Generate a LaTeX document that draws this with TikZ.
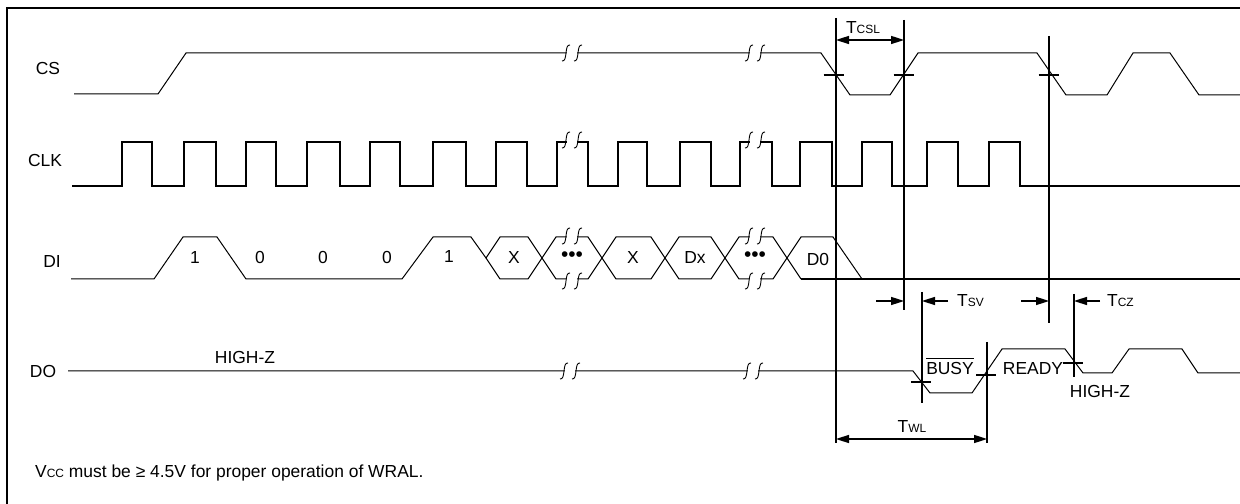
\documentclass[tikz,border=0pt]{standalone}
\usepackage{fontspec}
\setmainfont{Liberation Sans}
\usepackage{tikz}
\usetikzlibrary{arrows.meta,positioning}
\tikzstyle{signal} = [line width=1bp, line join=miter]
\tikzstyle{clock} = [line width=1.8bp]
\tikzstyle{guide} = [line width=1.8bp]
\tikzstyle{dimarrow} = [line width=1.6bp, >={Triangle[length=13bp,width=8bp]}]
\tikzstyle{siglabel} = [font=\fontsize{17.5}{20}\selectfont, inner sep=0pt]
\newcommand{\subcaps}[2]{#1{\fontsize{12}{14}\selectfont #2}}
\tikzset{brk/.pic={
  \fill[white] (-5,-7) rectangle (5,7);
  \draw[line width=0.9bp] (-10,8) .. controls (-4,9) and (-8,-9) .. (-2,-8);
  \draw[line width=0.9bp] (2,8) .. controls (8,9) and (4,-9) .. (10,-8);
}}

\begin{document}
\begin{tikzpicture}[x=1bp, y=-1bp]
\useasboundingbox (0,0) rectangle (1240,504);
% frame
\draw[line width=2.5bp] (7,504) -- (7,8) -- (1240,8);

% signal names
\node (cs) [siglabel] at (48,69) {CS};
\node (clk) [siglabel] at (45,161) {CLK};
\node (di) [siglabel] at (52,262) {DI};
\node (do) [siglabel] at (43,371) {DO};

% CS
\draw[signal] (74,94) -- (158,94) -- (186,53) -- (821,53) -- (850,95) -- (890,95) -- (918,53) -- (1037,53) -- (1066,95) -- (1107,95) -- (1133,53) -- (1170,53) -- (1199,95) -- (1240,95);

% CLK
\draw[clock] (72,186) foreach \r/\f in {122/152,184/216,246/276,307/340,370/400,433/466,496/527,557/588,618/647,680/711,740/772,800/832,862/892,927/958,989/1020} { -- (\r,186) -- (\r,142) -- (\f,142) -- (\f,186) } -- (1240,186);

% DI
\draw[signal] (71,279) -- (154,279) -- (183,237) -- (217,237) -- (246,279) -- (402,279) -- (433,237) -- (471,237) -- (486,258);
\foreach \a/\b in {486/542,542/602,602/665,665/725,725/787}
  \draw[signal] (\a,258) -- (\a+14,237) -- (\b-14,237) -- (\b,258) -- (\b-14,279) -- (\a+14,279) -- cycle;
\draw[signal] (787,258) -- (801,237) -- (833,237) -- (862,279);
\draw[signal] (787,258) -- (801,279);
\draw[clock] (801,279) -- (1240,279);

% DO
\draw[signal] (68,371) -- (913,371) -- (930,393) -- (972,393) -- (1002,349) -- (1065,349) -- (1083,373) -- (1112,373) -- (1129,349) -- (1182,349) -- (1198,373) -- (1240,373);

% breaks
\foreach \x in {572,755} {
  \pic at (\x,53) {brk};
  \pic at (\x,140) {brk};
  \pic at (\x,236) {brk};
  \pic at (\x,281) {brk};
}
\foreach \x in {570,753} \pic at (\x,371) {brk};

% DI data
\node (b1) [siglabel] at (195,258) {1};
\node (b2) [siglabel] at (260,257) {0};
\node (b3) [siglabel] at (323,257) {0};
\node (b4) [siglabel] at (387,257) {0};
\node (b5) [siglabel] at (449,257) {1};
\node (x1) [siglabel] at (514,258) {X};
\node (dots1) [siglabel, font=\fontsize{21}{21}\selectfont] at (572,257) {•••};
\node (x2) [siglabel] at (633,258) {X};
\node (dx) [siglabel] at (695,258) {Dx};
\node (dots2) [siglabel, font=\fontsize{21}{21}\selectfont] at (755,257) {•••};
\node (d0) [siglabel] at (818,259) {D0};

% timing guides
\coordinate (g1t) at (836,18);   \coordinate (g1b) at (836,443);
\coordinate (g2t) at (904,20);   \coordinate (g2b) at (904,310);
\coordinate (g3t) at (1049,36);  \coordinate (g3b) at (1049,323);
\coordinate (g4t) at (922,292);  \coordinate (g4b) at (922,403);
\coordinate (g5t) at (987,342);  \coordinate (g5b) at (987,443);
\coordinate (g6t) at (1074,294); \coordinate (g6b) at (1074,377);
\foreach \g in {1,...,6} \draw[guide] (g\g t) -- (g\g b);

% crossing ticks
\foreach \x/\y in {833.5/75,903.5/75,1048.5/75,921/382,986/375,1072.5/363}
  \draw[guide] (\x-10,\y) -- (\x+10,\y);

% timing arrows
\coordinate (a1) at (836,40);  \coordinate (a2) at (904,40);
\coordinate (a3) at (876,301); \coordinate (a4) at (904,301);
\coordinate (a5) at (948,301); \coordinate (a6) at (922,301);
\coordinate (a7) at (1021,301); \coordinate (a8) at (1049,301);
\coordinate (a9) at (1100,301); \coordinate (a10) at (1074,301);
\coordinate (a11) at (836,439); \coordinate (a12) at (987,439);
\draw[dimarrow,<->] (a1) -- (a2);
\draw[dimarrow,->] (a3) -- (a4);
\draw[dimarrow,->] (a5) -- (a6);
\draw[dimarrow,->] (a7) -- (a8);
\draw[dimarrow,->] (a9) -- (a10);
\draw[dimarrow,<->] (a11) -- (a12);

% timing labels
\node (tcsl) [siglabel] at (863,28) {\subcaps{T}{CSL}};
\node (tsv) [siglabel, anchor=west] at (957,301) {\subcaps{T}{SV}};
\node (tcz) [siglabel, anchor=west] at (1107,301) {\subcaps{T}{CZ}};
\node (twl) [siglabel] at (912,427) {\subcaps{T}{WL}};

% DO states
\node (hz1) [siglabel] at (245,357) {HIGH-Z};
\node (busy) [siglabel, anchor=base] at (950,375) {BUSY};
\draw[signal] ([yshift=4bp]busy.north west) -- ([yshift=4bp]busy.north east);
\node (ready) [siglabel, anchor=base] at (1033,375) {READY};
\node (hz2) [siglabel] at (1100,391) {HIGH-Z};

% note
\node (note) [siglabel, anchor=west] at (35,473) {\subcaps{V}{CC} must be ≥ 4.5V for proper operation of WRAL.};
\end{tikzpicture}
\end{document}
